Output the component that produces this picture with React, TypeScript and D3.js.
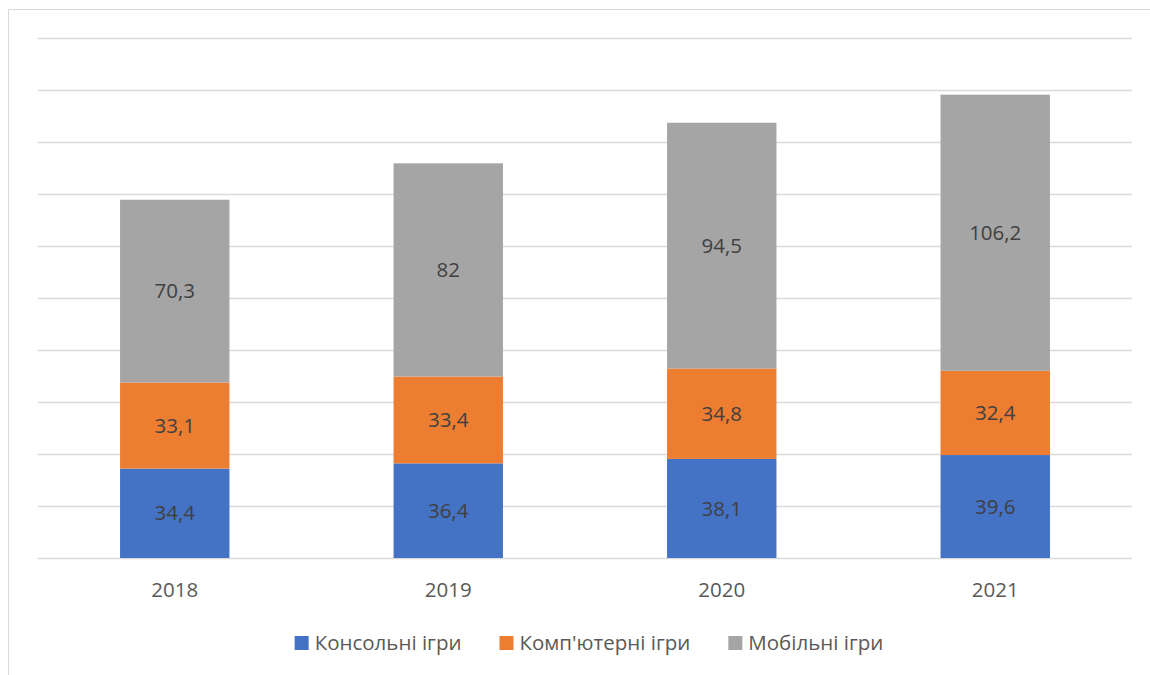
import React, { useEffect, useRef } from "react";
import * as d3 from "d3";

const years = ["2018", "2019", "2020", "2021"];
const seriesNames = ["Консольні ігри", "Комп'ютерні ігри", "Мобільні ігри"];
const consoleGames = [34.4, 36.4, 38.1, 39.6];
const pcGames = [33.1, 33.4, 34.8, 32.4];
const mobileGames = [70.3, 82, 94.5, 106.2];
const gridTicks = [0, 20, 40, 60, 80, 100, 120, 140, 160, 180, 200];
const colors = ["#4472C4", "#ED7D31", "#A5A5A5"];

const W = 1150;
const H = 675;
const FONT = "'Open Sans', 'Noto Sans', sans-serif";

export default function App() {
  const ref = useRef<SVGSVGElement | null>(null);

  useEffect(() => {
    const svg = d3.select(ref.current);
    svg.selectAll("*").remove();

    // chart border
    svg.append("rect")
      .attr("x", 8.5).attr("y", 9.5)
      .attr("width", 1300).attr("height", 700)
      .attr("fill", "white").attr("stroke", "#D9D9D9").attr("stroke-width", 1);

    const x = d3.scaleBand<string>().domain(years).range([38, 1132]).paddingInner(0.6).paddingOuter(0.3);
    const y = d3.scaleLinear().domain([0, 200]).range([558, 38]);

    // grid
    svg.append("g").selectAll("line").data(gridTicks).join("line")
      .attr("x1", 38).attr("x2", 1132)
      .attr("y1", (d) => Math.round(y(d)) + 0.5)
      .attr("y2", (d) => Math.round(y(d)) + 0.5)
      .attr("stroke", "#D9D9D9").attr("stroke-width", 1.3);

    const data = years.map((yr, i) => ({
      year: yr,
      values: [consoleGames[i], pcGames[i], mobileGames[i]],
    }));

    const stack = d3.stack<any>().keys(["0", "1", "2"]).value((d: any, k: string) => d.values[+k]);
    const stacked = stack(data);

    stacked.forEach((layer, si) => {
      const g = svg.append("g");
      g.selectAll("rect").data(layer).join("rect")
        .attr("x", (d: any) => x(d.data.year)!)
        .attr("width", x.bandwidth())
        .attr("y", (d: any) => y(d[1]))
        .attr("height", (d: any) => y(d[0]) - y(d[1]))
        .attr("fill", colors[si]);
      g.selectAll("text").data(layer).join("text")
        .attr("x", (d: any) => x(d.data.year)! + x.bandwidth() / 2)
        .attr("y", (d: any) => (y(d[0]) + y(d[1])) / 2)
        .attr("dy", "0.35em")
        .attr("text-anchor", "middle")
        .attr("font-family", FONT)
        .attr("font-size", 20.5)
        .attr("fill", "#404040")
        .text((d: any) => String(d.data.values[si]).replace(".", ","));
    });

    // x axis labels
    svg.append("g").selectAll("text").data(years).join("text")
      .attr("x", (d) => x(d)! + x.bandwidth() / 2)
      .attr("y", 590)
      .attr("dy", "0.35em")
      .attr("text-anchor", "middle")
      .attr("font-family", FONT)
      .attr("font-size", 20.5)
      .attr("fill", "#595959")
      .text((d) => d);

    // legend
    const legend = svg.append("g");
    let cx = 0;
    seriesNames.forEach((name, i) => {
      const gi = legend.append("g");
      gi.append("rect").attr("x", 0).attr("y", -7).attr("width", 14).attr("height", 14).attr("fill", colors[i]);
      const t = gi.append("text").attr("x", 20).attr("y", 0).attr("dy", "0.35em")
        .attr("font-family", FONT).attr("font-size", 20.5).attr("fill", "#595959").text(name);
      const tw = (t.node() as SVGTextElement).getComputedTextLength();
      gi.attr("transform", `translate(${cx},643)`);
      cx += 20 + tw + 38;
    });
    const totalW = cx - 38;
    const start = 589 - totalW / 2;
    legend.attr("transform", `translate(${start},0)`);
  }, []);

  return (
    <svg ref={ref} width={W} height={H} style={{ display: "block", position: "absolute", left: 0, top: 0 }} />
  );
}
